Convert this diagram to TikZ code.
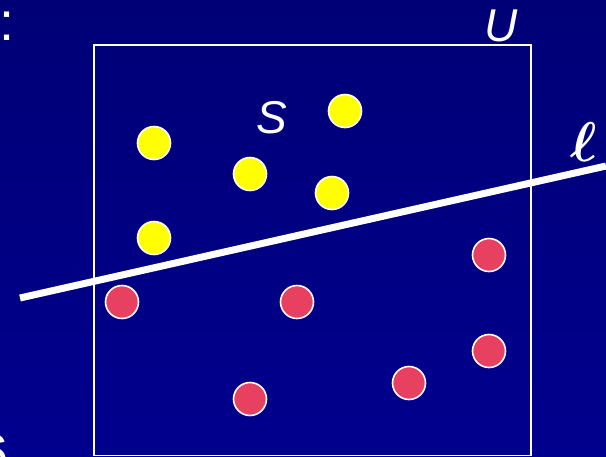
\documentclass[tikz,border=0pt]{standalone}
\usepackage{fontspec}
\setmainfont{Liberation Sans}
\definecolor{bgtop}{RGB}{0,0,118}
\definecolor{bgbot}{RGB}{0,0,142}
\definecolor{ptyellow}{RGB}{255,255,0}
\definecolor{ptred}{RGB}{232,64,96}
\tikzset{
  pt/.style={circle, draw=white, line width=1.6pt, minimum size=33pt, inner sep=0pt},
  ypt/.style={pt, fill=ptyellow},
  rpt/.style={pt, fill=ptred},
  lbl/.style={text=white, inner sep=0pt, font=\fontsize{46}{50}\selectfont\itshape}
}
\begin{document}
\begin{tikzpicture}[x=1pt,y=-1pt]
\useasboundingbox (0,0) rectangle (606,456);
\shade[top color=bgtop, bottom color=bgbot] (0,0) rectangle (606,456);
% partial slide text at left edge
\node[anchor=base west, inner sep=0pt, text=white, font=\fontsize{54}{60}\selectfont] (colon) at (-1,40) {:};
\node[anchor=base west, inner sep=0pt, text=white, font=\fontsize{54}{60}\selectfont] (six) at (-22,472) {6};
% universe box
\node[draw=white, line width=1.6pt, minimum width=437pt, minimum height=410.5pt, inner sep=0pt, anchor=north west] (box) at (93,44) {};
\node[lbl] (U) at (501,26) {U};
\node[lbl] (S) at (272,118) {S};
\node[text=white, inner sep=0pt, scale=5.6, font=\boldmath] (ell) at (584,142) {$\ell$};
% points
\node[ypt] (y1) at (154,143) {};
\node[ypt] (y2) at (250,174) {};
\node[ypt] (y3) at (345,111) {};
\node[ypt] (y4) at (332,193) {};
\node[ypt] (y5) at (154,238) {};
\node[rpt] (r1) at (122,302) {};
\node[rpt] (r2) at (297,302) {};
\node[rpt] (r3) at (489,255) {};
\node[rpt] (r4) at (489,351) {};
\node[rpt] (r5) at (409,383) {};
\node[rpt] (r6) at (250,399) {};
% separating line
\coordinate (la) at (20,298);
\coordinate (lb) at (606,166);
\draw[white, line width=7pt] (la) -- (lb);
\end{tikzpicture}
\end{document}
